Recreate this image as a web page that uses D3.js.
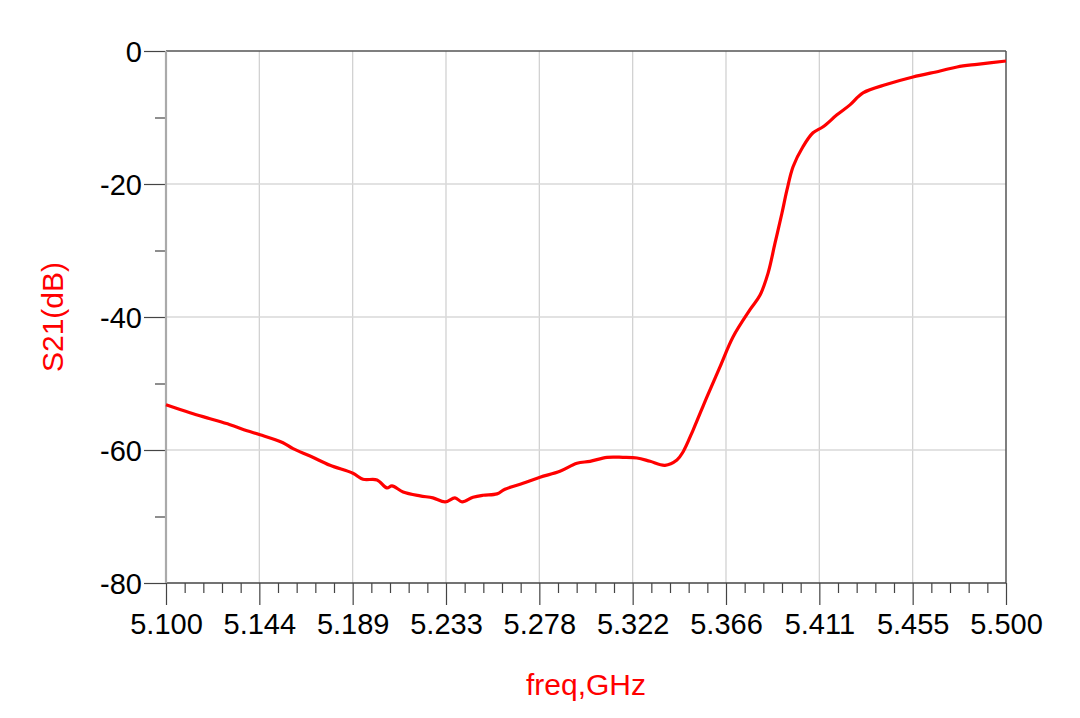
<!DOCTYPE html>
<html><head><meta charset="utf-8">
<script src="https://cdn.jsdelivr.net/npm/d3@7"></script>
<style>body{margin:0;background:#fff}svg{display:block}text{font-family:"Liberation Sans",Arial,sans-serif}</style>
</head><body><svg id="c" width="1080" height="718"></svg>
<script>
const freq = [5.1000,5.1114,5.1210,5.1305,5.1386,5.1448,5.1557,5.1605,5.1686,5.1781,5.1890,5.1938,5.2005,5.2052,5.2076,5.2129,5.2210,5.2271,5.2329,5.2376,5.2410,5.2462,5.2510,5.2576,5.2614,5.2700,5.2781,5.2876,5.2957,5.3019,5.3100,5.3176,5.3243,5.3305,5.3376,5.3433,5.3462,5.3510,5.3576,5.3638,5.3700,5.3781,5.3829,5.3867,5.3900,5.3933,5.3957,5.3986,5.4033,5.4081,5.4129,5.4195,5.4257,5.4319,5.4433,5.4557,5.4686,5.4767,5.4862,5.5000];
const s21 = [-53.2,-54.4,-55.3,-56.2,-57.1,-57.7,-58.9,-59.8,-60.9,-62.3,-63.5,-64.4,-64.5,-65.7,-65.4,-66.3,-66.9,-67.2,-67.8,-67.2,-67.8,-67.1,-66.8,-66.6,-65.9,-65.0,-64.1,-63.2,-62.0,-61.7,-61.1,-61.1,-61.2,-61.7,-62.3,-61.5,-60.3,-57.0,-52.0,-47.5,-43.0,-38.9,-36.7,-33.4,-28.9,-24.4,-20.9,-17.4,-14.4,-12.3,-11.4,-9.6,-8.1,-6.3,-5.0,-3.9,-3.0,-2.4,-2.0,-1.5];
const xTickLabels = ["5.100","5.144","5.189","5.233","5.278","5.322","5.366","5.411","5.455","5.500"];
const yTicks = [0,-20,-40,-60,-80];
const yMinorTicks = [-10,-30,-50,-70];

const svg = d3.select("#c");
const L=166, R=1006, T=51, B=583;
const x = d3.scaleLinear().domain([5.1,5.5]).range([L,R]);
const y = d3.scaleLinear().domain([-80,0]).range([B,T]);
const xMajor = d3.range(10).map(i => 5.1 + i*0.4/9);
const xMinor = d3.range(46).map(i => 5.1 + i*0.4/45).filter((d,i)=> i%5!==0);

// grid
const g = svg.append("g");
g.selectAll(".vg").data(xMajor.slice(1,-1)).join("line")
 .attr("x1",d=>x(d)).attr("x2",d=>x(d)).attr("y1",T).attr("y2",B)
 .attr("stroke","#d2d2d2").attr("stroke-width",1.3);
g.selectAll(".hg").data([-20,-40,-60]).join("line")
 .attr("x1",L).attr("x2",R).attr("y1",d=>y(d)).attr("y2",d=>y(d))
 .attr("stroke","#d9d9d9").attr("stroke-width",1.3);

// bottom axis
const xAx = svg.append("g").attr("transform",`translate(0,${B})`)
 .call(d3.axisBottom(x).tickValues(xMajor).tickSize(22).tickFormat((d,i)=>xTickLabels[i]));
xAx.select(".domain").remove();
xAx.selectAll(".tick line").attr("stroke","#444").attr("stroke-width",1.2);
xAx.selectAll(".tick text").attr("font-size",29).attr("fill","#000").attr("dy",0).attr("y",51);
svg.append("g").attr("transform",`translate(0,${B})`)
 .call(d3.axisBottom(x).tickValues(xMinor).tickSize(10).tickFormat(""))
 .call(a=>{a.select(".domain").remove();a.selectAll("line").attr("stroke","#444").attr("stroke-width",1.2);});

// left axis
const yAx = svg.append("g").attr("transform",`translate(${L},0)`)
 .call(d3.axisLeft(y).tickValues(yTicks).tickSize(22).tickFormat(d3.format("d")));
yAx.select(".domain").remove();
yAx.selectAll(".tick line").attr("stroke","#444").attr("stroke-width",1.2);
yAx.selectAll(".tick text").attr("font-size",29).attr("fill","#000").attr("x",-24).attr("dy","0.36em")
 .text(d=>d===0?"0":"-"+Math.abs(d));
svg.append("g").attr("transform",`translate(${L},0)`)
 .call(d3.axisLeft(y).tickValues(yMinorTicks).tickSize(11).tickFormat(""))
 .call(a=>{a.select(".domain").remove();a.selectAll("line").attr("stroke","#444").attr("stroke-width",1.2);});

// frame
svg.append("line").attr("x1",L).attr("x2",R).attr("y1",T).attr("y2",T).attr("stroke","#555").attr("stroke-width",1.5);
svg.append("line").attr("x1",R).attr("x2",R).attr("y1",T).attr("y2",B).attr("stroke","#555").attr("stroke-width",1.5);
svg.append("line").attr("x1",L).attr("x2",R).attr("y1",B).attr("y2",B).attr("stroke","#444").attr("stroke-width",1.3);
svg.append("line").attr("x1",L).attr("x2",L).attr("y1",T).attr("y2",B).attr("stroke","#aaa").attr("stroke-width",2.2);

// data line
const data = freq.map((f,i)=>[f,s21[i]]);
svg.append("path").datum(data)
 .attr("d", d3.line().x(d=>x(d[0])).y(d=>y(d[1])).curve(d3.curveCatmullRom.alpha(0.5)))
 .attr("fill","none").attr("stroke","#ff0000").attr("stroke-width",3.2).attr("stroke-linejoin","round");

// titles
svg.append("text").attr("x",586).attr("y",695).attr("text-anchor","middle")
 .attr("font-size",30).attr("fill","#ff0000").text("freq,GHz");
svg.append("text").attr("transform","translate(63,317) rotate(-90)").attr("text-anchor","middle")
 .attr("font-size",30).attr("fill","#ff0000").text("S21(dB)");
</script></body></html>
